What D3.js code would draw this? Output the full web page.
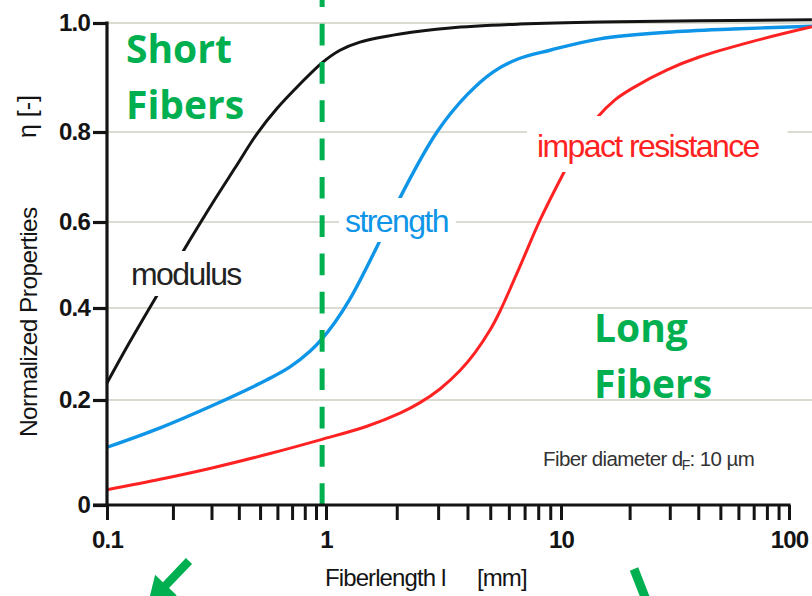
<!DOCTYPE html>
<html>
<head>
<meta charset="utf-8">
<script src="https://cdn.jsdelivr.net/npm/d3@7"></script>
<style>
  body { margin: 0; background: #fff; }
  svg { display: block; }
</style>
</head>
<body>
<svg id="chart" width="812" height="596"></svg>
<script>
// Fibre length l (mm) against normalised property value η
const modulusLen = [0.1, 0.127, 0.175, 0.239, 0.305, 0.384, 0.484, 0.597, 0.761, 0.959, 1.147, 1.395, 2.065, 3.37, 6.69, 14.8, 126];
const modulusVal = [0.237, 0.326, 0.442, 0.558, 0.644, 0.720, 0.796, 0.843, 0.888, 0.927, 0.950, 0.965, 0.980, 0.991, 0.998, 1.002, 1.006];

const strengthLen = [0.1, 0.175, 0.305, 0.538, 0.685, 0.845, 0.959, 1.092, 1.265, 1.616, 2.127, 2.967, 3.98, 5.135, 6.56, 8.98, 14.8, 29.2, 56.8, 126];
const strengthVal = [0.110, 0.147, 0.190, 0.244, 0.272, 0.306, 0.333, 0.369, 0.421, 0.533, 0.667, 0.800, 0.868, 0.910, 0.934, 0.950, 0.971, 0.983, 0.989, 0.994];

const impactLen = [0.1, 0.175, 0.305, 0.555, 0.959, 1.494, 2.065, 2.512, 3.055, 3.718, 4.306, 4.988, 5.50, 6.69, 8.14, 10.2, 12.11, 14.38, 17.25, 20.7, 29.2, 40.7, 67.5, 126];
const impactVal = [0.029, 0.049, 0.071, 0.098, 0.125, 0.150, 0.175, 0.195, 0.224, 0.264, 0.303, 0.352, 0.393, 0.497, 0.604, 0.706, 0.776, 0.826, 0.859, 0.881, 0.914, 0.938, 0.965, 0.993];

// Axis ticks
const xMajor = [0.1, 1, 10, 100];
const xTickLabels = ["0.1", "1", "10", "100"];
const yTicks = [0, 0.2, 0.4, 0.6, 0.8, 1.0];
const yTickLabels = ["0", "0.2", "0.4", "0.6", "0.8", "1.0"];

// Short / long fibre boundary (mm)
const boundaryLen = 0.96;

const GREEN = "#00b050";
const BLUE = "#0f95e8";
const RED = "#ff2222";
const INK = "#141414";

const svg = d3.select("#chart");

// Piecewise scales follow the printed axis spacing
const x = d3.scaleLog().domain([0.1, 1, 10, 100]).range([107, 326, 561, 789]);
const y = d3.scaleLinear().domain([0, 0.2, 0.4, 0.6, 0.8, 1.0]).range([505, 400, 308, 222, 132, 23]);

// Horizontal grid
svg.append("g").selectAll("line")
  .data(yTicks.filter(d => d > 0))
  .join("line")
  .attr("x1", x(0.1)).attr("x2", 812)
  .attr("y1", d => y(d)).attr("y2", d => y(d))
  .attr("stroke", "#cfcfc2").attr("stroke-width", 1.6);

// Curves
const line = d3.line().x(d => x(d[0])).y(d => y(d[1])).curve(d3.curveCatmullRom.alpha(0.5));
const series = [
  { len: modulusLen, val: modulusVal, color: INK, w: 3 },
  { len: strengthLen, val: strengthVal, color: BLUE, w: 3.4 },
  { len: impactLen, val: impactVal, color: RED, w: 3 }
];
svg.append("g").selectAll("path")
  .data(series)
  .join("path")
  .attr("fill", "none")
  .attr("stroke", d => d.color)
  .attr("stroke-width", d => d.w)
  .attr("stroke-linejoin", "round")
  .attr("d", d => line(d.len.map((l, i) => [l, d.val[i]])));

// Curve labels on white boxes
const curveLabels = [
  { text: "modulus", color: "#222", x: 131, y: 285, pad: [6, 6, 5, 4] },
  { text: "strength", color: BLUE, x: 345, y: 232, pad: [6, 8, 5, 3] },
  { text: "impact resistance", color: RED, x: 537, y: 157, pad: [10, 28, 12, 8] }
];
const lg = svg.append("g");
curveLabels.forEach(c => {
  const g = lg.append("g");
  const rect = g.append("rect").attr("fill", "#fff");
  const t = g.append("text")
    .attr("x", c.x).attr("y", c.y)
    .attr("font-family", "Liberation Sans, Arial, sans-serif")
    .attr("font-size", 32)
    .attr("letter-spacing", -1.6)
    .attr("fill", c.color)
    .text(c.text);
  const b = t.node().getBBox();
  rect.attr("x", b.x - c.pad[0]).attr("y", b.y - c.pad[2])
    .attr("width", b.width + c.pad[0] + c.pad[1])
    .attr("height", b.height + c.pad[2] + c.pad[3]);
});

// Fibre diameter note
const note = svg.append("text")
  .attr("x", 543).attr("y", 466)
  .attr("font-family", "Liberation Sans, Arial, sans-serif")
  .attr("font-size", 20.5)
  .attr("letter-spacing", -0.6)
  .attr("fill", "#333");
note.append("tspan").text("Fiber diameter d");
note.append("tspan").attr("font-size", 14).attr("dy", 4).attr("dx", -1).text("F");
note.append("tspan").attr("dy", -4).text(": 10 \u00b5m");

// Boundary between short and long fibres
svg.append("line")
  .attr("x1", x(boundaryLen)).attr("x2", x(boundaryLen))
  .attr("y1", y(0)).attr("y2", 0)
  .attr("stroke", GREEN).attr("stroke-width", 5)
  .attr("stroke-dasharray", "21.7 16.6");

// Region captions
const caption = (lines, x0, y0) => {
  lines.forEach((s, i) => {
    svg.append("text")
      .attr("x", x0).attr("y", y0 + i * 56)
      .attr("font-family", "Open Sans, sans-serif")
      .attr("font-weight", 700)
      .attr("font-size", 39)
      .attr("fill", GREEN)
      .text(s);
  });
};
caption(["Short", "Fibers"], 126, 63);
caption(["Long", "Fibers"], 594, 342);

// Axes
const xTicks = [];
for (let e = -1; e < 2; e++) {
  for (let k = 1; k < 10; k++) xTicks.push(k * Math.pow(10, e));
}
xTicks.push(100);

const tickFont = g => g.selectAll("text")
  .attr("font-family", "Liberation Sans, Arial, sans-serif")
  .attr("font-weight", 700)
  .attr("font-size", 24)
  .attr("letter-spacing", -0.8)
  .attr("fill", INK);

const gx = svg.append("g")
  .attr("transform", `translate(0,${y(0)})`)
  .call(d3.axisBottom(x)
    .tickValues(xTicks)
    .tickSize(15)
    .tickSizeOuter(0)
    .tickPadding(11)
    .tickFormat(d => {
      const i = xMajor.findIndex(m => Math.abs(m - d) < 1e-9);
      return i >= 0 ? xTickLabels[i] : "";
    }))
  .call(tickFont);
gx.select(".domain").remove();
gx.selectAll(".tick line").attr("stroke", INK).attr("stroke-width", 3);
gx.append("line")
  .attr("x1", 93).attr("x2", x(100) + 1.5)
  .attr("stroke", INK).attr("stroke-width", 3.2);

const gy = svg.append("g")
  .attr("transform", `translate(${x(0.1)},0)`)
  .call(d3.axisLeft(y)
    .tickValues(yTicks)
    .tickSize(14)
    .tickSizeOuter(0)
    .tickPadding(3)
    .tickFormat((d, i) => yTickLabels[i]))
  .call(tickFont);
gy.select(".domain").remove();
gy.selectAll(".tick line").attr("stroke", INK).attr("stroke-width", 3.2);
gy.append("line")
  .attr("y1", y(0)).attr("y2", y(1) - 1.5)
  .attr("stroke", INK).attr("stroke-width", 3.2);

// Axis titles
const xt = svg.append("text")
  .attr("y", 586)
  .attr("font-family", "Liberation Sans, Arial, sans-serif")
  .attr("font-size", 24)
  .attr("letter-spacing", -0.9)
  .attr("fill", INK);
xt.append("tspan").attr("x", 325).text("Fiberlength l");
xt.append("tspan").attr("x", 477).text("[mm]");

svg.append("text")
  .attr("transform", "translate(37,437) rotate(-90)")
  .attr("font-family", "Liberation Sans, Arial, sans-serif")
  .attr("font-size", 24.5)
  .attr("letter-spacing", -0.6)
  .attr("fill", INK)
  .text("Normalized Properties");

svg.append("text")
  .attr("transform", "translate(36,138) rotate(-90)")
  .attr("font-family", "Liberation Sans, Arial, sans-serif")
  .attr("font-size", 25)
  .attr("fill", INK)
  .text("\u03b7 [-]");

// Arrows pointing to the two regions
const arrow = (x0, y0, x1, y1, w, head) => {
  const dx = x1 - x0, dy = y1 - y0, L = Math.hypot(dx, dy);
  const ux = dx / L, uy = dy / L, nx = -uy, ny = ux;
  const hb = head ? L - head.len : L;
  const pts = [
    [x0 + nx * w / 2, y0 + ny * w / 2],
    [x0 + ux * hb + nx * w / 2, y0 + uy * hb + ny * w / 2]
  ];
  if (head) {
    pts.push([x0 + ux * hb + nx * head.w / 2, y0 + uy * hb + ny * head.w / 2]);
    pts.push([x1, y1]);
    pts.push([x0 + ux * hb - nx * head.w / 2, y0 + uy * hb - ny * head.w / 2]);
  }
  pts.push([x0 + ux * hb - nx * w / 2, y0 + uy * hb - ny * w / 2]);
  pts.push([x0 - nx * w / 2, y0 - ny * w / 2]);
  svg.append("path").attr("d", "M" + pts.map(p => p.join(",")).join("L") + "Z").attr("fill", GREEN);
};
arrow(189, 561, 148, 604, 8.5, { len: 26, w: 30 });
arrow(634, 569, 650, 610, 9, null);
</script>
</body>
</html>
